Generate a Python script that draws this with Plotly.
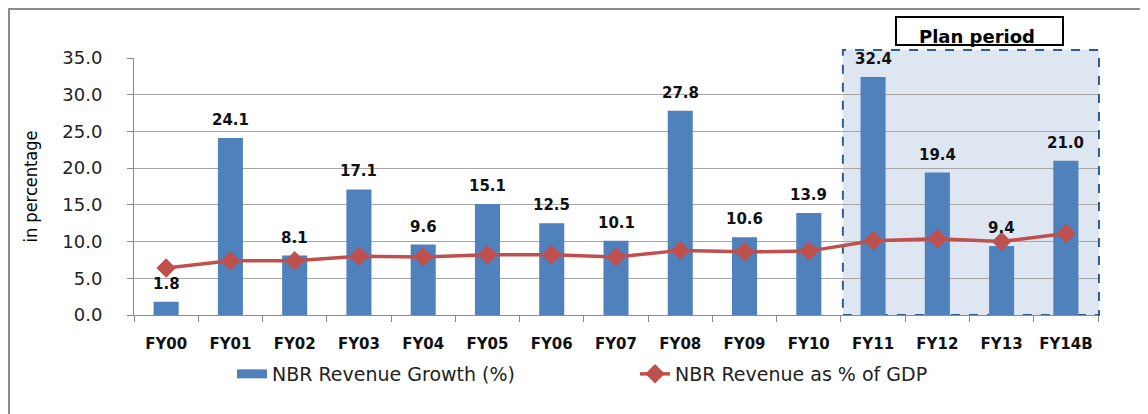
import plotly.graph_objects as go

categories = ["FY00", "FY01", "FY02", "FY03", "FY04", "FY05", "FY06", "FY07",
              "FY08", "FY09", "FY10", "FY11", "FY12", "FY13", "FY14B"]
growth = [1.8, 24.1, 8.1, 17.1, 9.6, 15.1, 12.5, 10.1, 27.8, 10.6, 13.9, 32.4, 19.4, 9.4, 21.0]
gdp_share = [6.4, 7.4, 7.4, 8.0, 7.9, 8.2, 8.2, 7.9, 8.8, 8.6, 8.7, 10.1, 10.4, 10.0, 11.1]
y_ticks = [0, 5, 10, 15, 20, 25, 30, 35]

BLUE = "#4f81bd"
RED = "#c0504d"
FONT = "DejaVu Sans, Verdana, sans-serif"

fig = go.Figure()
fig.add_trace(go.Bar(
    x=categories, y=growth, marker=dict(color=BLUE, line=dict(width=0)),
    width=0.39, showlegend=False, name="NBR Revenue Growth (%)"))
# legend proxy for bars
fig.add_trace(go.Scatter(
    x=[None], y=[None], mode="lines", line=dict(color=BLUE, width=9),
    name="NBR Revenue Growth (%)"))
fig.add_trace(go.Scatter(
    x=categories, y=gdp_share, mode="lines+markers",
    line=dict(color=RED, width=3.5),
    marker=dict(symbol="diamond", size=15, color=RED),
    name="NBR Revenue as % of GDP", cliponaxis=False))

# page body has an 8px margin; work in page pixels and convert
OFF = 8
PW, PH = 1148, 414
W, H = PW - OFF, PH - OFF
PL, PR, PT, PB = 134, 1098, 58, 315  # plot area in page pixels
L, T = PL - OFF, PT - OFF
R = W - (PR - OFF)
B = H - (PB - OFF)
pw, ph = PR - PL, PB - PT

def px_x(p):
    return (p - PL) / pw

def px_y(p):
    return (PB - p) / ph

n = len(categories)
plan_start = categories.index("FY11")

shapes = [
    dict(type="rect", xref="paper", yref="paper",
         x0=plan_start / n + 0.002, x1=1.001, y0=0, y1=px_y(50),
         fillcolor="#dee6f1", line=dict(color="#2f5b8f", width=2, dash="dash"),
         layer="below"),
    dict(type="rect", xref="paper", yref="paper",
         x0=px_x(896), x1=px_x(1063), y0=px_y(45), y1=px_y(17),
         fillcolor="white", line=dict(color="black", width=2)),
    dict(type="line", xref="paper", yref="paper",
         x0=px_x(9), x1=px_x(9), y0=px_y(8), y1=px_y(420),
         line=dict(color="#8c8c8c", width=2)),
    dict(type="line", xref="paper", yref="paper",
         x0=px_x(8), x1=px_x(1150), y0=px_y(9), y1=px_y(9),
         line=dict(color="#8c8c8c", width=2)),
]

annotations = [dict(
    xref="paper", yref="paper", x=px_x(977), y=px_y(36),
    text="<b>Plan period</b>", showarrow=False,
    font=dict(family=FONT, size=18, color="black"),
    xanchor="center", yanchor="middle")]
for c, v in zip(categories, growth):
    annotations.append(dict(
        x=c, y=v, xref="x", yref="y", text=f"<b>{v:.1f}</b>", showarrow=False,
        yanchor="bottom", xanchor="center", yshift=7,
        font=dict(family=FONT, size=15, color="#111")))

fig.update_layout(
    width=W, height=H,
    margin=dict(l=L, r=R, t=T, b=B),
    paper_bgcolor="white", plot_bgcolor="rgba(0,0,0,0)",
    shapes=shapes,
    annotations=annotations,
    legend=dict(orientation="h", x=px_x(232), y=px_y(374), xanchor="left",
                yanchor="middle", font=dict(family=FONT, size=19, color="#222"),
                entrywidth=358, entrywidthmode="pixels", bgcolor="rgba(0,0,0,0)"),
    xaxis=dict(type="category", tickson="boundaries", ticks="outside", ticklen=6,
               tickcolor="#8c8c8c", showline=True, linecolor="#8c8c8c", linewidth=1,
               showgrid=False, ticklabelstandoff=15,
               tickfont=dict(family=FONT, size=15, color="#111"),
               tickprefix="<b>", ticksuffix="</b>",
               range=[-0.5, n - 0.5]),
    yaxis=dict(range=[0, 35], tickvals=y_ticks, tickformat=".1f",
               ticks="outside", ticklen=6, tickcolor="#8c8c8c",
               showline=True, linecolor="#8c8c8c", linewidth=1,
               showgrid=True, gridcolor="#a6a6a6", gridwidth=1,
               zeroline=False, ticklabelstandoff=21,
               tickfont=dict(family=FONT, size=18, color="#222"),
               title=dict(text="in percentage", standoff=20,
                          font=dict(family="DejaVu Sans Condensed, sans-serif",
                                    size=18, color="black"))),
)

fig.write_html("out.html")
